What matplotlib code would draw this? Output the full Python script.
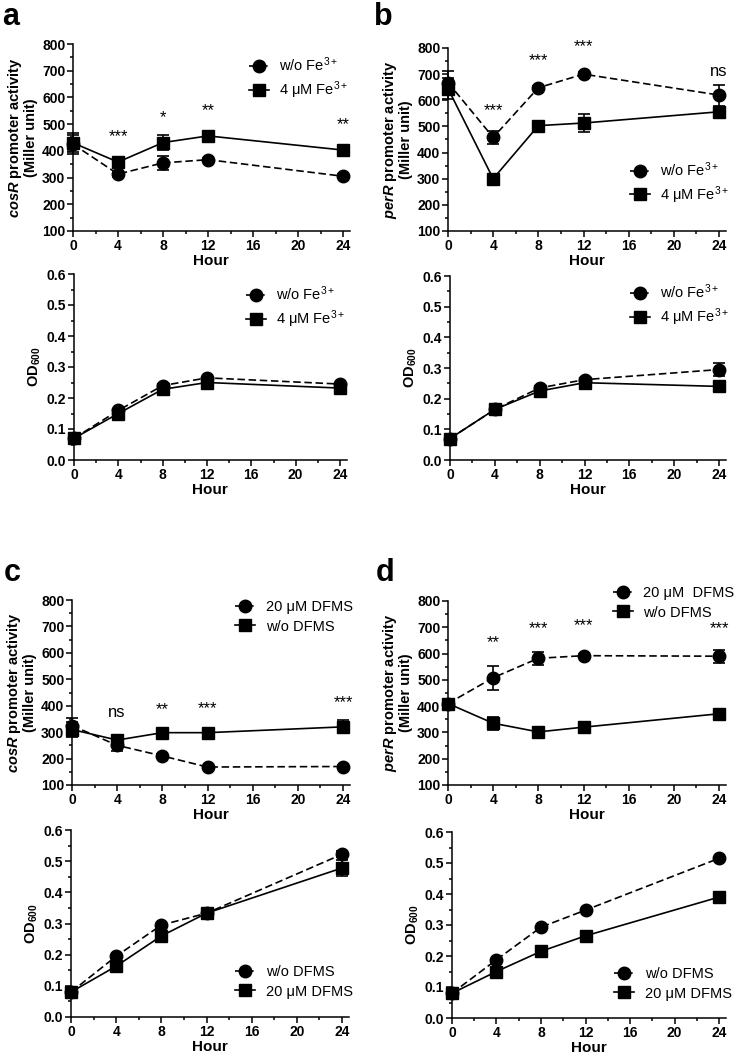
import numpy as np
import matplotlib
matplotlib.use('Agg')
import matplotlib.pyplot as plt
from matplotlib.ticker import MultipleLocator
from matplotlib.lines import Line2D

plt.rcParams['font.family'] = ['Liberation Sans', 'DejaVu Sans']
plt.rcParams['mathtext.fontset'] = 'custom'
plt.rcParams['mathtext.rm'] = 'Liberation Sans'
plt.rcParams['mathtext.it'] = 'Liberation Sans:italic:bold'
plt.rcParams['mathtext.bf'] = 'Liberation Sans:bold'

hours = [0, 4, 8, 12, 24]

# panel a : cosR, Fe3+
a_act_wo = [425, 313, 355, 367, 305]
a_act_wo_err = [35, 10, 25, 8, 8]
a_act_fe = [430, 358, 431, 456, 403]
a_act_fe_err = [35, 10, 28, 8, 8]
a_sig = ['', '***', '*', '**', '**']
a_sig_y = [0, 452, 525, 550, 500]
a_od_wo = [0.07, 0.16, 0.24, 0.265, 0.245]
a_od_fe = [0.07, 0.15, 0.228, 0.25, 0.232]

# panel b : perR, Fe3+
b_act_wo = [668, 458, 648, 700, 620]
b_act_wo_err = [45, 25, 8, 8, 40]
b_act_fe = [645, 300, 503, 513, 556]
b_act_fe_err = [40, 8, 8, 35, 18]
b_sig = ['', '***', '***', '***', 'ns']
b_sig_y = [0, 560, 750, 805, 709]
b_od_wo = [0.07, 0.165, 0.235, 0.262, 0.295]
b_od_wo_err = [0, 0, 0, 0, 0.02]
b_od_fe = [0.07, 0.165, 0.225, 0.252, 0.24]

# panel c : cosR, DFMS
c_act_dfms = [325, 250, 210, 168, 170]
c_act_dfms_err = [30, 22, 8, 5, 5]
c_act_wo = [310, 270, 298, 298, 320]
c_act_wo_err = [30, 15, 8, 8, 25]
c_sig = ['', 'ns', '**', '***', '***']
c_sig_y = [0, 375, 387, 390, 412]
c_od_wo = [0.08, 0.195, 0.295, 0.333, 0.522]
c_od_wo_err = [0, 0, 0, 0, 0.01]
c_od_dfms = [0.08, 0.163, 0.26, 0.333, 0.478]
c_od_dfms_err = [0, 0, 0, 0, 0.025]

# panel d : perR, DFMS
d_act_dfms = [410, 508, 582, 592, 590]
d_act_dfms_err = [8, 45, 25, 8, 25]
d_act_wo = [410, 335, 302, 320, 371]
d_act_wo_err = [8, 25, 8, 8, 8]
d_sig = ['', '**', '***', '***', '***']
d_sig_y = [0, 641, 696, 706, 696]
d_od_wo = [0.08, 0.188, 0.293, 0.348, 0.515]
d_od_dfms = [0.08, 0.15, 0.215, 0.265, 0.39]

W, H = 742, 1061
fig = plt.figure(figsize=(W / 100, H / 100), dpi=100)
XMAX = 24.6
DASH = (0, (4.5, 2.2))


def make_ax(left, x24, top, bottom):
    w = (x24 - left) * XMAX / 24
    return fig.add_axes([left / W, 1 - bottom / H, w / W, (bottom - top) / H])


def style(ax, ylim, major, minor, ylabel):
    ax.set_xlim(0, XMAX)
    ax.set_ylim(*ylim)
    ax.spines['top'].set_visible(False)
    ax.spines['right'].set_visible(False)
    for s in ['left', 'bottom']:
        ax.spines[s].set_linewidth(1.1)
    ax.xaxis.set_major_locator(MultipleLocator(4))
    ax.xaxis.set_minor_locator(MultipleLocator(2))
    ax.yaxis.set_major_locator(MultipleLocator(major))
    ax.yaxis.set_minor_locator(MultipleLocator(minor))
    ax.tick_params(which='major', direction='out', length=4, width=1.1,
                   labelsize=10, pad=1.5)
    ax.tick_params(which='minor', direction='out', length=2.5, width=1.1)
    for lbl in ax.get_xticklabels() + ax.get_yticklabels():
        lbl.set_fontweight('bold')
    ax.set_xlabel('Hour', fontweight='bold', fontsize=11, labelpad=1)
    ax.set_ylabel(ylabel, fontweight='bold', fontsize=10.5, labelpad=3,
                  linespacing=1.0)


def series(ax, y, err, marker, ls):
    cont = ax.errorbar(hours, y, yerr=err, color='black', marker=marker,
                       ms=9 if marker == 'o' else 8.5, ls=ls, lw=1.2,
                       capsize=4, elinewidth=1.2, capthick=1.2)
    for art in [cont[0]] + list(cont[1]) + list(cont[2]):
        art.set_clip_on(False)


def legend(ax, labels, loc, x, y):
    h1 = Line2D([], [], color='black', marker='o', ms=9, lw=1.2, ls=DASH)
    h2 = Line2D([], [], color='black', marker='s', ms=8.5, lw=1.2, ls='-')
    ax.legend([h1, h2], labels, loc=loc, bbox_to_anchor=(x / W, 1 - y / H),
              bbox_transform=fig.transFigure, frameon=False, fontsize=10.5,
              handlelength=1.4, handletextpad=0.7, labelspacing=0.35,
              borderpad=0.1, borderaxespad=0)


def sig(ax, labels, ys):
    for xh, s, yy in zip(hours, labels, ys):
        if s:
            ax.text(xh, yy, s, ha='center', va='center', fontsize=12,
                    clip_on=False)


act_a = r'$\it{cosR}$ promoter activity' + '\n(Miller unit)'
act_b = r'$\it{perR}$ promoter activity' + '\n(Miller unit)'
od_lab = r'OD$_{\bf{600}}$'
fe_labels = [r'w/o Fe$^{3+}$', r'4 μM Fe$^{3+}$']

# ---- a
ax = make_ax(73, 343, 44, 231)
series(ax, a_act_wo, a_act_wo_err, 'o', DASH)
series(ax, a_act_fe, a_act_fe_err, 's', '-')
style(ax, (100, 800), 100, 50, act_a)
sig(ax, a_sig, a_sig_y)
legend(ax, fe_labels, 'upper right', 350, 54)

ax = make_ax(74, 340, 274, 460)
series(ax, a_od_wo, None, 'o', DASH)
series(ax, a_od_fe, None, 's', '-')
style(ax, (0, 0.6), 0.1, 0.05, od_lab)
legend(ax, fe_labels, 'upper right', 347, 283)

# ---- b
ax = make_ax(448, 719, 48, 231)
series(ax, b_act_wo, b_act_wo_err, 'o', DASH)
series(ax, b_act_fe, b_act_fe_err, 's', '-')
style(ax, (100, 800), 100, 50, act_b)
sig(ax, b_sig, b_sig_y)
legend(ax, fe_labels, 'lower right', 731, 207)

ax = make_ax(450, 719, 276, 460)
series(ax, b_od_wo, b_od_wo_err, 'o', DASH)
series(ax, b_od_fe, None, 's', '-')
style(ax, (0, 0.6), 0.1, 0.05, od_lab)
legend(ax, fe_labels, 'upper right', 731, 281)

# ---- c
ax = make_ax(72, 343, 600, 785)
series(ax, c_act_dfms, c_act_dfms_err, 'o', DASH)
series(ax, c_act_wo, c_act_wo_err, 's', '-')
style(ax, (100, 800), 100, 50, act_a)
sig(ax, c_sig, c_sig_y)
legend(ax, ['20 μM DFMS', 'w/o DFMS'], 'upper right', 354, 599)

ax = make_ax(71, 342, 830, 1017)
series(ax, c_od_wo, c_od_wo_err, 'o', DASH)
series(ax, c_od_dfms, c_od_dfms_err, 's', '-')
style(ax, (0, 0.6), 0.1, 0.05, od_lab)
legend(ax, ['w/o DFMS', '20 μM DFMS'], 'lower right', 354, 1000)

# ---- d
ax = make_ax(448, 719, 601, 785)
series(ax, d_act_dfms, d_act_dfms_err, 'o', DASH)
series(ax, d_act_wo, d_act_wo_err, 's', '-')
style(ax, (100, 800), 100, 50, act_b)
sig(ax, d_sig, d_sig_y)
legend(ax, ['20 μM  DFMS', 'w/o DFMS'], 'upper right', 736, 585)

ax = make_ax(452, 719, 832, 1018)
series(ax, d_od_wo, None, 'o', DASH)
series(ax, d_od_dfms, None, 's', '-')
style(ax, (0, 0.6), 0.1, 0.05, od_lab)
legend(ax, ['w/o DFMS', '20 μM DFMS'], 'lower right', 733, 1002)

for s, x, y in [('a', 2, 25), ('b', 374, 25), ('c', 4, 581), ('d', 376, 581)]:
    fig.text(x / W, 1 - y / H, s, fontsize=22, fontweight='bold',
             ha='left', va='baseline')

fig.savefig('out.png', dpi=100)
